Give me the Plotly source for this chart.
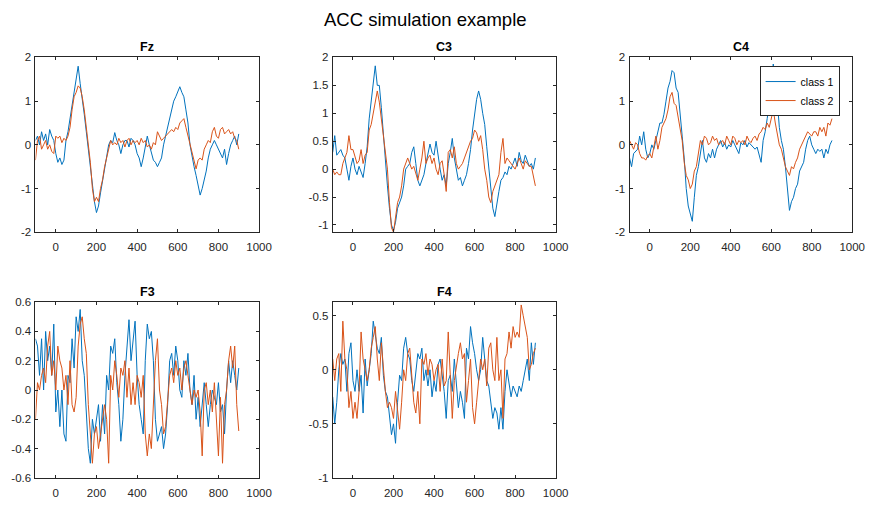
import plotly.graph_objects as go

# time axis (ms)
t = list(range(-100, 901, 10))

fz_c1 = [0.1, 0.2, 0.0, 0.3, 0.1, 0.25, 0.0, 0.35, 0.2, 0.1,
         -0.2, -0.4, -0.3, -0.45, -0.35, 0.1, 0.3, 0.6, 0.9, 1.3,
         1.5, 1.8, 1.4, 1.1, 0.7, 0.3, -0.1, -0.5, -1.0, -1.3,
         -1.55, -1.4, -1.1, -0.8, -0.5, -0.3, 0.0, 0.1, 0.05, 0.28,
         0.1, 0.0, -0.2, 0.0, 0.1, 0.1, -0.05, 0.15, 0.1, 0.0,
         -0.2, -0.3, -0.5, -0.3, 0.0, 0.2, 0.0, -0.2, -0.35, -0.4,
         -0.5, -0.4, -0.3, 0.0, 0.2, 0.4, 0.6, 0.8, 1.0, 1.1,
         1.2, 1.33, 1.2, 1.1, 0.8, 0.5, 0.0, -0.3, -0.5, -0.7,
         -0.9, -1.15, -1.0, -0.8, -0.6, -0.3, -0.1, 0.0, 0.1, 0.0,
         -0.1, -0.2, -0.3, -0.1, -0.45, -0.2, 0.0, 0.1, 0.2, 0.0,
         0.25]
fz_c2 = [-0.35, 0.1, 0.2, -0.1, 0.0, 0.1, -0.1, 0.0, -0.15, -0.2,
         0.2, 0.15, 0.2, 0.05, 0.15, 0.1, 0.2, 0.4, 0.8, 1.1,
         1.2, 1.35, 1.3, 1.1, 0.8, 0.4, 0.1, -0.4, -1.0, -1.3,
         -1.2, -1.3, -1.0, -0.8, -0.5, -0.3, -0.1, 0.1, 0.0, 0.05,
         0.0, 0.15, 0.05, 0.1, -0.05, 0.1, 0.15, 0.0, 0.1, 0.05,
         0.1, 0.0, 0.15, 0.05, 0.1, -0.05, 0.0, -0.1, 0.05, 0.0,
         0.3, 0.2, 0.1, 0.15, 0.2, 0.25, 0.3, 0.35, 0.3, 0.4,
         0.35, 0.5, 0.55, 0.6, 0.4, 0.2, 0.0, -0.2, -0.4, -0.55,
         -0.35, -0.3, -0.35, -0.1, 0.0, 0.1, 0.05, 0.3, 0.4, 0.2,
         0.15, 0.35, 0.4, 0.25, 0.3, 0.35, 0.25, 0.3, 0.15, 0.1,
         -0.1]
c3_c1 = [0.3, 0.6, 0.25, 0.3, 0.35, 0.25, 0.2, 0.0, -0.2, 0.05,
         0.2, 0.0, -0.1, 0.05, -0.05, -0.15, 0.1, 0.4, 0.9, 1.2,
         1.55, 1.85, 1.5, 1.5, 1.1, 0.6, 0.2, -0.3, -0.7, -1.0,
         -1.1, -0.95, -0.7, -0.6, -0.5, -0.3, 0.0, 0.05, 0.1, 0.3,
         0.4, 0.1, -0.2, -0.3, -0.2, -0.1, 0.1, 0.25, 0.45, 0.3,
         0.25, 0.5, 0.2, 0.0, -0.2, -0.1, -0.3, 0.1, 0.3, 0.55,
         0.2, 0.0, -0.2, -0.15, -0.3, -0.2, -0.1, 0.1, 0.35, 0.7,
         1.0, 1.25, 1.4, 1.25, 1.0, 0.8, 0.4, 0.0, -0.4, -0.7,
         -0.85, -0.6, -0.4, -0.2, -0.15, -0.05, -0.1, 0.05, 0.0, 0.1,
         0.2, 0.05, 0.3, 0.15, 0.1, 0.25, 0.15, 0.05, 0.1, 0.0,
         0.2]
c3_c2 = [0.0, -0.1, -0.05, -0.1, -0.1, 0.1, 0.2, 0.3, 0.6, 0.35,
         0.35, 0.2, 0.1, 0.15, 0.35, 0.1, 0.25, 0.3, 0.7, 0.8,
         1.0, 1.2, 1.4, 1.2, 0.9, 0.7, 0.4, 0.0, -0.6, -1.05,
         -1.13, -0.9, -0.6, -0.5, -0.3, 0.0, 0.1, 0.2, 0.1, 0.0,
         0.05, -0.1, -0.2, 0.0, 0.2, 0.5, 0.1, 0.2, 0.25, 0.1,
         0.2, 0.0, -0.1, 0.1, 0.15, -0.1, -0.4, 0.3, 0.35, 0.2,
         0.4, 0.1, 0.0, 0.05, 0.1, 0.2, 0.3, 0.4, 0.5, 0.55,
         0.7, 0.65, 0.5, 0.6, 0.35, 0.0, -0.2, -0.5, -0.6, -0.4,
         -0.3, -0.2, -0.1, 0.3, 0.55, 0.1, 0.2, 0.15, 0.1, 0.05,
         0.0, 0.1, 0.2, 0.1, 0.0, 0.15, 0.1, 0.05, 0.05, -0.1,
         -0.3]
c4_c1 = [-0.3, -0.5, -0.2, -0.15, -0.1, 0.2, 0.0, 0.3, -0.1, -0.3,
         -0.2, 0.0, -0.1, 0.1, 0.3, 0.5, 0.5, 0.7, 1.0, 1.3,
         1.45, 1.7, 1.65, 1.3, 1.2, 0.6, 0.2, -0.3, -1.0, -1.4,
         -1.55, -1.75, -1.2, -0.7, -0.5, -0.2, 0.1, -0.3, -0.4, -0.2,
         -0.3, -0.1, -0.3, -0.1, 0.0, 0.1, -0.05, 0.05, -0.1, 0.0,
         -0.05, 0.1, 0.0, -0.1, -0.2, 0.05, 0.0, 0.1, -0.05, 0.05,
         0.0, -0.05, -0.1, -0.05, -0.2, -0.4, 0.1, 0.3, 0.6, 0.9,
         1.3, 1.85, 1.3, 1.0, 0.4, 0.1, -0.1, -0.5, -1.0, -1.5,
         -1.3, -1.2, -1.0, -0.9, -0.6, -0.5, -0.4, -0.1, 0.1, 0.2,
         0.0, -0.1, -0.2, -0.1, -0.15, -0.1, -0.3, -0.1, -0.2, 0.0,
         0.1]
c4_c2 = [0.1, 0.0, -0.1, 0.05, 0.0, -0.2, -0.3, -0.3, -0.35, -0.25,
         -0.2, -0.3, 0.0, 0.2, -0.1, 0.1, 0.4, 0.5, 0.6, 0.8,
         1.1, 1.2, 0.95, 0.9, 0.6, 0.3, 0.1, -0.4, -0.7, -0.8,
         -1.0, -0.9, -0.6, -0.5, -0.2, 0.1, 0.0, 0.2, 0.15, 0.0,
         0.05, 0.2, 0.1, 0.15, 0.0, 0.05, 0.1, 0.0, 0.2, 0.1,
         0.0, 0.2, 0.15, 0.0, 0.1, 0.05, 0.1, 0.0, 0.2, 0.1,
         0.05, 0.15, 0.2, 0.1, 0.25, 0.3, 0.4, 0.35, 0.5, 0.4,
         0.6, 0.8, 0.5, 0.2, 0.0, -0.1, -0.3, -0.5, -0.6, -0.7,
         -0.5, -0.55, -0.4, -0.3, -0.1, 0.0, 0.1, 0.2, 0.3, 0.25,
         0.2, 0.3, 0.3, 0.2, 0.4, 0.3, 0.4, 0.2, 0.5, 0.45,
         0.6]
f3_c1 = [0.35, 0.3, 0.1, 0.35, 0.0, 0.4, 0.2, 0.3, 0.1, 0.45,
         -0.15, 0.0, -0.25, 0.0, -0.3, -0.35, 0.1, 0.05, 0.35, 0.15,
         0.5, 0.4, 0.55, 0.2, 0.1, -0.2, -0.4, -0.5, -0.2, -0.3,
         -0.2, -0.1, -0.35, -0.1, -0.3, 0.1, 0.0, 0.3, 0.25, 0.35,
         0.05, -0.1, -0.35, -0.2, 0.1, 0.3, 0.48, 0.2, 0.35, 0.47,
         0.1, -0.1, -0.2, -0.3, 0.2, 0.45, 0.35, 0.4, 0.2, -0.2,
         -0.35, -0.3, -0.25, -0.4, -0.3, -0.1, 0.2, 0.25, 0.1, 0.3,
         0.2, 0.0, -0.05, 0.2, 0.1, 0.25, 0.0, -0.1, 0.1, -0.2,
         -0.05, -0.25, -0.1, 0.05, -0.1, -0.25, -0.1, 0.0, -0.05, -0.1,
         0.05, -0.15, -0.1, -0.3, 0.0, 0.2, 0.05, 0.2, 0.1, 0.0,
         0.15]
f3_c2 = [-0.2, 0.05, 0.0, 0.1, 0.15, 0.05, 0.3, 0.4, 0.1, 0.2,
         0.0, 0.3, 0.2, 0.15, 0.0, 0.1, -0.1, 0.2, -0.1, -0.15,
         -0.05, 0.3, 0.45, 0.5, 0.35, 0.25, -0.1, -0.3, -0.5, -0.3,
         -0.25, -0.4, -0.3, -0.2, -0.1, -0.2, -0.5, 0.1, 0.0, 0.2,
         0.1, -0.05, 0.15, 0.1, 0.2, -0.05, 0.15, -0.1, 0.05, -0.1,
         0.1, 0.05, -0.05, 0.1, -0.3, -0.45, -0.3, -0.4, -0.1, 0.2,
         0.35, 0.0, -0.1, -0.3, -0.25, -0.1, 0.1, 0.15, 0.05, 0.2,
         0.1, 0.15, 0.0, 0.15, 0.2, 0.1, 0.0, -0.1, 0.0, -0.05,
         0.0, -0.15, -0.45, 0.0, 0.05, -0.1, 0.0, -0.15, 0.05, -0.2,
         -0.45, -0.05, -0.5, -0.1, 0.0, 0.2, 0.3, 0.15, 0.3, -0.1,
         -0.28]
f4_c1 = [-0.25, -0.5, -0.3, 0.0, 0.15, 0.05, 0.1, -0.2, 0.15, 0.25,
         -0.1, -0.2, 0.0, -0.2, -0.05, -0.4, 0.1, -0.15, 0.0, 0.15,
         0.45, 0.3, 0.2, 0.15, 0.3, -0.05, -0.2, -0.25, -0.45, -0.6,
         -0.5, -0.68, -0.3, -0.05, -0.1, 0.2, 0.3, 0.15, 0.1, -0.1,
         -0.2, 0.0, 0.15, 0.1, 0.2, -0.1, 0.0, -0.15, 0.0, -0.25,
         -0.1, -0.2, 0.05, 0.1, -0.05, -0.2, -0.45, -0.1, -0.05, -0.2,
         0.1, -0.1, -0.35, -0.2, -0.3, -0.45, 0.2, 0.1, 0.4, 0.25,
         0.15, 0.0, -0.1, 0.0, 0.3, 0.1, -0.1, -0.15, -0.3, -0.45,
         -0.35, -0.4, -0.55, -0.35, -0.55, -0.2, 0.0, -0.15, -0.25, -0.15,
         -0.2, -0.25, -0.15, -0.2, -0.1, 0.0, 0.1, -0.1, 0.25, 0.05,
         0.25]
f4_c2 = [0.1, -0.1, 0.1, 0.15, -0.2, 0.45, 0.1, 0.0, -0.35, -0.2,
         -0.45, -0.3, -0.45, -0.2, 0.35, 0.1, 0.0, -0.1, 0.0, 0.2,
         0.3, 0.4, 0.1, -0.1, 0.25, 0.0, -0.2, -0.35, -0.3, -0.35,
         -0.45, -0.2, -0.35, -0.55, -0.3, 0.0, -0.1, 0.15, 0.2, -0.1,
         -0.3, -0.4, -0.2, -0.5, 0.1, 0.05, 0.15, -0.05, 0.1, 0.05,
         -0.1, 0.0, 0.05, -0.2, 0.1, -0.15, -0.1, 0.35, 0.0, -0.45,
         -0.1, 0.05, 0.15, 0.25, 0.1, 0.15, -0.3, -0.1, 0.1, -0.35,
         -0.5, -0.3, -0.1, 0.1, 0.0, 0.1, -0.15, 0.2, 0.25, 0.0,
         -0.1, 0.3, -0.1, 0.0, -0.45, 0.1, 0.15, 0.35, 0.2, 0.4,
         0.3, 0.35, 0.3, 0.6, 0.5, 0.4, 0.3, 0.0, 0.05, 0.15,
         0.2]

panel_titles = ["Fz", "C3", "C4", "F3", "F4"]
series = [(fz_c1, fz_c2), (c3_c1, c3_c2), (c4_c1, c4_c2), (f3_c1, f3_c2), (f4_c1, f4_c2)]
x_ticks = [0, 200, 400, 600, 800, 1000]
x_ticktext = ["0", "200", "400", "600", "800", "1000"]
y_ticks = [[-2, -1, 0, 1, 2],
           [-1, -0.5, 0, 0.5, 1, 1.5, 2],
           [-2, -1, 0, 1, 2],
           [-0.6, -0.4, -0.2, 0, 0.2, 0.4, 0.6],
           [-1, -0.5, 0, 0.5]]
y_ticktext = [["-2", "-1", "0", "1", "2"],
              ["-1", "-0.5", "0", "0.5", "1", "1.5", "2"],
              ["-2", "-1", "0", "1", "2"],
              ["-0.6", "-0.4", "-0.2", "0", "0.2", "0.4", "0.6"],
              ["-1", "-0.5", "0", "0.5"]]
y_ranges = [[-2, 2], [-1.13, 2], [-2, 2], [-0.6, 0.6], [-1, 0.626]]
x_range = [-100, 1000]
class_names = ["class 1", "class 2"]

W, H = 879, 508
# pixel boxes (left, right, top, bottom)
boxes = [(36, 263, 52.7, 231.7), (337.7, 564, 52.7, 231.7), (639, 865, 52.7, 231.7),
         (36, 263, 303.3, 483.3), (337.7, 564, 303.3, 483.3)]
colors = ["#0072BD", "#D95319"]
axcol = "#262626"
font = "Liberation Sans, Arial, sans-serif"

fig = go.Figure()
layout = dict(width=W, height=H, margin=dict(l=0, r=0, t=0, b=0),
              paper_bgcolor="white", plot_bgcolor="white",
              font=dict(family=font, size=11.5, color=axcol))
annotations = []
for i, (name, (s1, s2)) in enumerate(zip(panel_titles, series)):
    l, r, tp, bt = boxes[i]
    xa = "x" if i == 0 else f"x{i+1}"
    ya = "y" if i == 0 else f"y{i+1}"
    for k, s in enumerate((s1, s2)):
        fig.add_trace(go.Scatter(x=t, y=s, mode="lines", xaxis=xa, yaxis=ya,
                                 line=dict(color=colors[k], width=1),
                                 name=class_names[k], showlegend=(i == 2)))
    common = dict(showline=True, linecolor=axcol, linewidth=1, mirror="ticks",
                  ticks="inside", ticklen=3, tickcolor=axcol, showgrid=False,
                  zeroline=False, tickfont=dict(family=font, size=11.5, color=axcol))
    layout["xaxis" if i == 0 else f"xaxis{i+1}"] = dict(
        domain=[l / W, r / W], anchor=ya, range=x_range,
        tickvals=x_ticks, ticktext=x_ticktext, ticklabelstandoff=4, **common)
    layout["yaxis" if i == 0 else f"yaxis{i+1}"] = dict(
        domain=[1 - bt / H, 1 - tp / H], anchor=xa, range=y_ranges[i],
        tickvals=y_ticks[i], ticktext=y_ticktext[i], ticklabelstandoff=1, **common)
    annotations.append(dict(text=f"<b>{name}</b>", x=(l + r) / 2 / W, y=1 - (tp - 10.5) / H,
                            xref="paper", yref="paper", xanchor="center", yanchor="middle",
                            showarrow=False, font=dict(family=font, size=12.5, color="black")))
annotations.append(dict(text="ACC simulation example", x=432 / W, y=1 - 14 / H,
                        xref="paper", yref="paper", xanchor="center", yanchor="middle",
                        showarrow=False, font=dict(family=font, size=18.5, color="black")))
layout["annotations"] = annotations
layout["legend"] = dict(x=771 / W, y=1 - 61.5 / H, xanchor="left", yanchor="top",
                        bgcolor="white", bordercolor=axcol, borderwidth=1,
                        font=dict(family=font, size=10.5, color="black"),
                        tracegroupgap=0, itemwidth=30)
fig.update_layout(**layout)
fig.write_html("out.html")
